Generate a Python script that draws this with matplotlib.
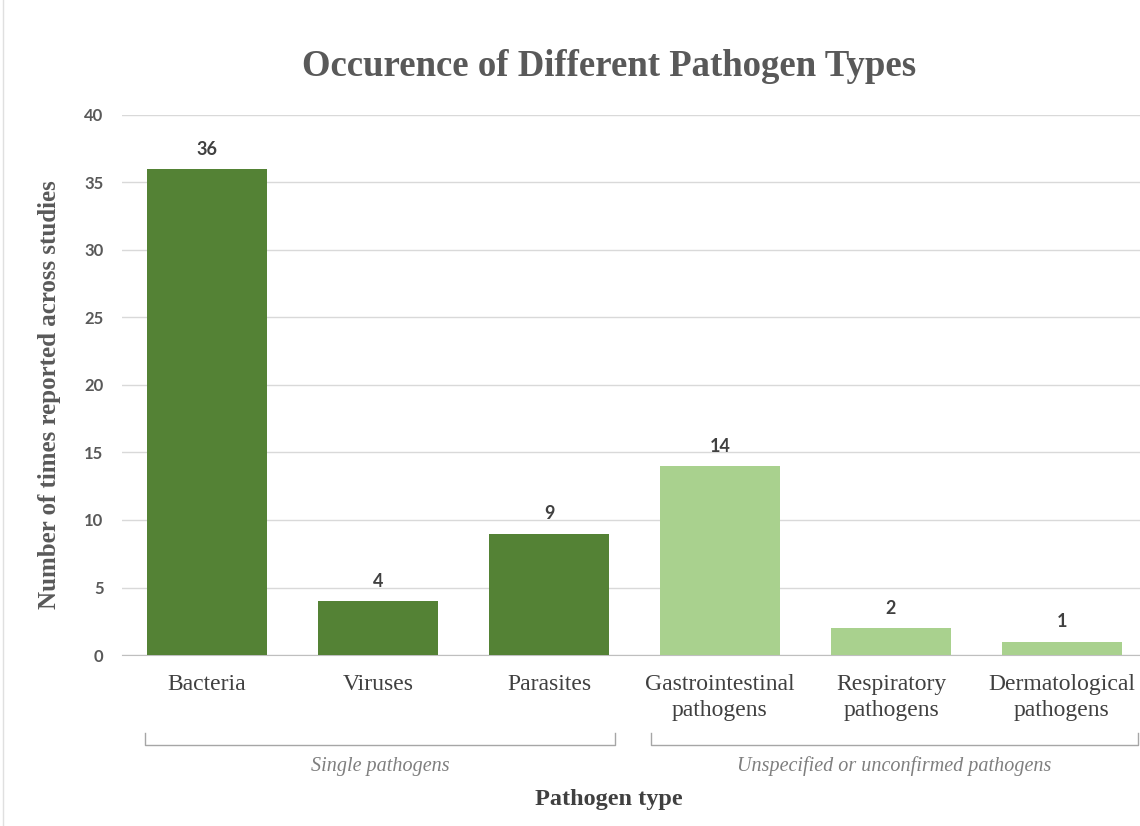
import matplotlib.pyplot as plt
from matplotlib.lines import Line2D

categories = ["Bacteria", "Viruses", "Parasites",
              "Gastrointestinal\npathogens", "Respiratory\npathogens", "Dermatological\npathogens"]
counts = [36, 4, 9, 14, 2, 1]
groups = ["single", "single", "single", "unspecified", "unspecified", "unspecified"]
group_names = {"single": "Single pathogens", "unspecified": "Unspecified or unconfirmed pathogens"}
group_colors = {"single": "#548235", "unspecified": "#A9D18E"}

W, H = 1140, 826
fig = plt.figure(figsize=(W / 100, H / 100), dpi=100)
# axes in pixel coords: x from 121.5 to 1147.5, y from 115 (top) to 655 (bottom)
ax = fig.add_axes([121.5 / W, 1 - 655 / H, 1026 / W, 540 / H])

x = list(range(len(categories)))
colors = [group_colors[g] for g in groups]
bars = ax.bar(x, counts, width=0.70, color=colors, zorder=3)

ax.set_xlim(-0.5, len(categories) - 0.5)
ax.set_ylim(0, 40)
ax.set_yticks(range(0, 41, 5))
ax.yaxis.grid(True, color="#d9d9d9", linewidth=1, zorder=0)
for s in ["top", "right", "left"]:
    ax.spines[s].set_visible(False)
ax.spines["bottom"].set_color("#bfbfbf")
ax.tick_params(axis="both", length=0)
ax.tick_params(axis="y", pad=13)

for lab in ax.get_yticklabels():
    lab.set_fontfamily("Lato")
    lab.set_fontweight("bold")
    lab.set_fontsize(12)
    lab.set_color("#595959")

ax.set_xticks(x)
ax.set_xticklabels(categories, fontfamily="Liberation Serif", fontsize=17,
                   color="#404040", linespacing=1.3)
ax.tick_params(axis="x", pad=14)

for b, v in zip(bars, counts):
    ax.annotate(str(v), (b.get_x() + b.get_width() / 2, v), xytext=(0, 8),
                textcoords="offset points", ha="center", va="bottom",
                fontfamily="Lato", fontweight="bold", fontsize=13, color="#404040")

fig.text(609 / W, 1 - 66 / H, "Occurence of Different Pathogen Types",
         ha="center", va="center", fontfamily="Liberation Serif",
         fontweight="bold", fontsize=26.5, color="#595959")

fig.text(50 / W, 1 - 395 / H, "Number of times reported across studies",
         ha="center", va="center", rotation=90, fontfamily="Liberation Serif",
         fontweight="bold", fontsize=18, color="#595959")

# group brackets
brackets = [("single", 145, 615), ("unspecified", 651, 1138)]
for g, x0, x1 in brackets:
    ys = [1 - 733 / H, 1 - 745 / H, 1 - 745 / H, 1 - 733 / H]
    xs = [x0 / W, x0 / W, x1 / W, x1 / W]
    fig.add_artist(Line2D(xs, ys, color="#a6a6a6", linewidth=1))
    fig.text((x0 + x1) / 2 / W, 1 - 766 / H, group_names[g], ha="center", va="center",
             fontfamily="Liberation Serif", fontstyle="italic", fontsize=14.5, color="#7f7f7f")

fig.text(609 / W, 1 - 800 / H, "Pathogen type", ha="center", va="center",
         fontfamily="Liberation Serif", fontweight="bold", fontsize=17.5, color="#404040")

fig.add_artist(Line2D([3 / W, 3 / W], [0, 1], color="#e0e0e0", linewidth=1))

fig.savefig("out.png", dpi=100)
